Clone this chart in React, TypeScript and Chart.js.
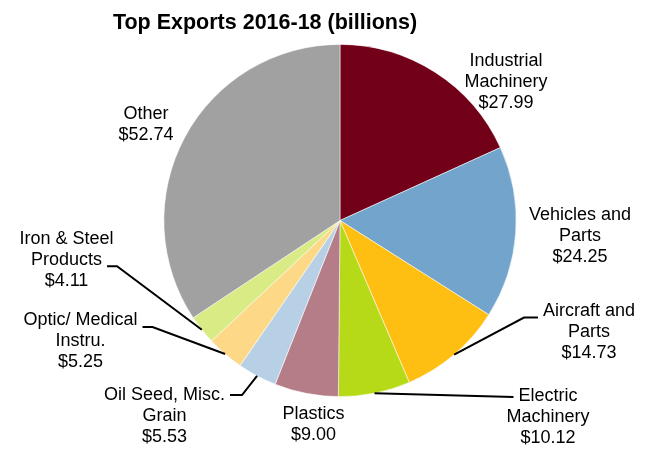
import React, { useEffect, useRef } from 'react';
import Chart from 'chart.js/auto';

const title = 'Top Exports 2016-18 (billions)';
const categories = [
  'Industrial Machinery',
  'Vehicles and Parts',
  'Aircraft and Parts',
  'Electric Machinery',
  'Plastics',
  'Oil Seed, Misc. Grain',
  'Optic/ Medical Instru.',
  'Iron & Steel Products',
  'Other',
];
const labelLines = [
  ['Industrial', 'Machinery'],
  ['Vehicles and', 'Parts'],
  ['Aircraft and', 'Parts'],
  ['Electric', 'Machinery'],
  ['Plastics'],
  ['Oil Seed, Misc.', 'Grain'],
  ['Optic/ Medical', 'Instru.'],
  ['Iron & Steel', 'Products'],
  ['Other'],
];
const values = [27.99, 24.25, 14.73, 10.12, 9.0, 5.53, 5.25, 4.11, 52.74];
const colors = [
  '#720019',
  '#72A4CC',
  '#FFBE12',
  '#B6DA17',
  '#B57D88',
  '#B8D0E5',
  '#FDD987',
  '#D9EB84',
  '#A1A1A1',
];

type Leader = { side: 'left' | 'right'; line: number; yOff: number; elbow: number };
type LabelLayout = { dx: number; dy: number; leader?: Leader };

// label block centres relative to the pie centre (px)
const labelLayout: LabelLayout[] = [
  { dx: 166, dy: -138 },
  { dx: 240, dy: 16 },
  { dx: 249, dy: 111.5, leader: { side: 'left', line: 0, yOff: 6.5, elbow: 14 } },
  { dx: 208, dy: 197, leader: { side: 'left', line: 0, yOff: 0.5, elbow: 0 } },
  { dx: -26.5, dy: 204.5 },
  { dx: -175.5, dy: 195.5, leader: { side: 'right', line: 0, yOff: 0, elbow: 12 } },
  { dx: -259.5, dy: 120.5, leader: { side: 'right', line: 0, yOff: 7, elbow: 10 } },
  { dx: -273.5, dy: 40, leader: { side: 'right', line: 1, yOff: 5.7, elbow: 10 } },
  { dx: -194, dy: -95.5 },
];

const FONT = '"Liberation Sans", Arial, sans-serif';
const LINE_H = 21;
const GAP = 5;

const labelPlugin = {
  id: 'pieLabels',
  afterDraw(chart: any) {
    const ctx = chart.ctx as CanvasRenderingContext2D;
    ctx.save();
    // title
    ctx.fillStyle = '#000';
    ctx.font = `bold 21.5px ${FONT}`;
    ctx.textAlign = 'center';
    ctx.textBaseline = 'alphabetic';
    ctx.fillText(title, 265, 29);

    const meta = chart.getDatasetMeta(0);
    ctx.font = `18px ${FONT}`;
    ctx.textBaseline = 'middle';
    ctx.strokeStyle = '#000';
    ctx.lineWidth = 2;
    meta.data.forEach((arc: any, i: number) => {
      const { x, y, startAngle, endAngle, outerRadius } = arc.getProps(
        ['x', 'y', 'startAngle', 'endAngle', 'outerRadius'],
        true
      );
      const mid = (startAngle + endAngle) / 2;
      const ex = x + Math.cos(mid) * outerRadius;
      const ey = y + Math.sin(mid) * outerRadius;
      const lay = labelLayout[i];
      const cx = x + lay.dx;
      const cy = y + lay.dy;
      const lines = [...labelLines[i], '$' + values[i].toFixed(2)];
      const n = lines.length;
      lines.forEach((t, k) => {
        ctx.fillText(t, cx, cy + (k - (n - 1) / 2) * LINE_H);
      });
      if (lay.leader) {
        const L = lay.leader;
        const ly = cy + (L.line - (n - 1) / 2) * LINE_H + L.yOff;
        const w = ctx.measureText(lines[L.line]).width;
        const sx = L.side === 'left' ? cx - w / 2 - GAP : cx + w / 2 + GAP;
        const bx = L.side === 'left' ? sx - L.elbow : sx + L.elbow;
        ctx.beginPath();
        ctx.moveTo(sx, ly);
        ctx.lineTo(bx, ly);
        ctx.lineTo(ex, ey);
        ctx.stroke();
      }
    });
    ctx.restore();
  },
};

export default function App() {
  const ref = useRef<HTMLCanvasElement | null>(null);
  useEffect(() => {
    if (!ref.current) return;
    const chart = new Chart(ref.current, {
      type: 'pie',
      data: {
        labels: categories,
        datasets: [
          {
            data: values,
            backgroundColor: colors,
            borderColor: 'rgba(255,255,255,0.7)',
            borderWidth: 0.75,
          },
        ],
      },
      options: {
        responsive: false,
        animation: false,
        layout: { padding: { left: 160, right: 127, top: 44, bottom: 53 } },
        plugins: {
          legend: { display: false },
          tooltip: { enabled: false },
          title: { display: false },
        },
      },
      plugins: [labelPlugin],
    });
    return () => chart.destroy();
  }, []);
  return (
    <div style={{ position: 'absolute', left: 0, top: 0, width: 647, height: 450, background: '#fff' }}>
      <canvas ref={ref} width={647} height={450} />
    </div>
  );
}
